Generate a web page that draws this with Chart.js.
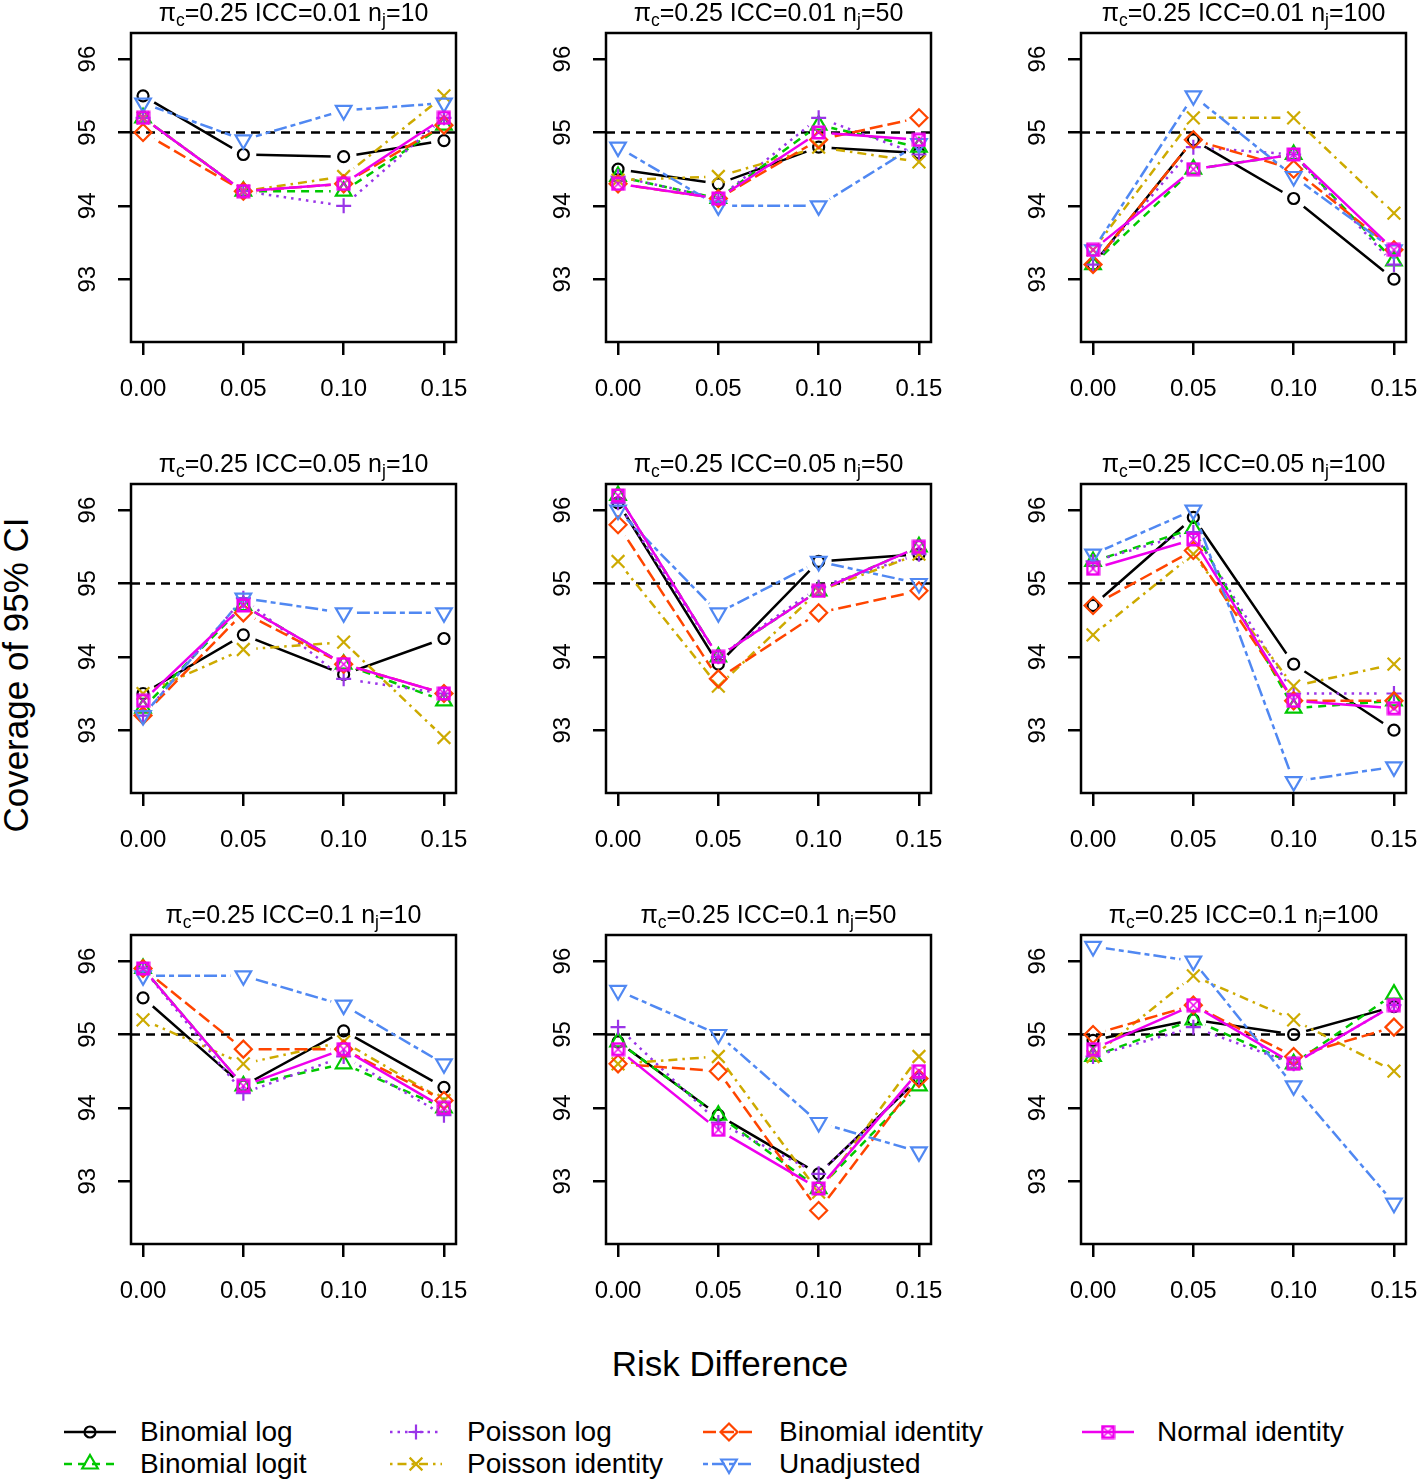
<!DOCTYPE html>
<html>
<head>
<meta charset="utf-8">
<script src="https://cdn.jsdelivr.net/npm/chart.js@4/dist/chart.umd.min.js"></script>
<style>
html,body{margin:0;padding:0;background:#fff;overflow:hidden;}
#wrap{position:relative;width:1418px;height:1480px;overflow:hidden;background:#fff;
  font-family:"Liberation Sans",Arial,Helvetica,sans-serif;color:#000;}
canvas.panel{position:absolute;}
.ptitle{position:absolute;text-align:center;font-size:25px;line-height:25px;white-space:nowrap;}
.ptitle sub{font-size:70%;vertical-align:baseline;position:relative;top:0.3em;}
.axtitle{position:absolute;white-space:nowrap;text-align:center;}
.leg{position:absolute;font-size:28px;line-height:30px;white-space:nowrap;}
canvas.legicon{position:absolute;}
</style>
</head>
<body>
<div id="wrap"></div>
<script>
// ---------------- data ----------------
const riskDiff = [0, 0.05, 0.10, 0.15];
const xTickLabels = ['0.00', '0.05', '0.10', '0.15'];
const yTickValues = [93, 94, 95, 96];
const nominalCoverage = 95;
const piC = '0.25';
const iccLevels = ['0.01', '0.05', '0.1'];
const clusterSizes = ['10', '50', '100'];
const seriesNames = ['Binomial log', 'Binomial logit', 'Poisson log', 'Poisson identity',
  'Binomial identity', 'Unadjusted', 'Normal identity'];

// one row per panel (ICC 0.01: n=10,50,100; ICC 0.05: ...; ICC 0.1: ...)
const binomialLog = [
  [95.5, 94.7, 94.67, 94.89],
  [94.5, 94.3, 94.8, 94.72],
  [93.2, 94.9, 94.1, 93.0],
  [93.5, 94.3, 93.76, 94.25],
  [96.1, 93.9, 95.3, 95.4],
  [94.7, 95.9, 93.9, 93.0],
  [95.5, 94.3, 95.05, 94.28],
  [94.9, 93.9, 93.1, 94.4],
  [94.92, 95.2, 95.0, 95.38]
];
const binomialLogit = [
  [95.2, 94.2, 94.2, 95.1],
  [94.4, 94.1, 95.1, 94.8],
  [93.2, 94.5, 94.7, 93.25],
  [93.3, 94.7, 93.9, 93.4],
  [96.2, 94.0, 94.9, 95.5],
  [95.3, 95.75, 93.3, 93.4],
  [95.9, 94.3, 94.6, 94.0],
  [94.9, 93.9, 92.9, 94.3],
  [94.7, 95.2, 94.6, 95.55]
];
const poissonLog = [
  [95.2, 94.2, 94.0, 95.2],
  [94.4, 94.1, 95.2, 94.7],
  [93.2, 94.8, 94.7, 93.2],
  [93.2, 94.8, 93.7, 93.5],
  [96.1, 94.0, 94.95, 95.4],
  [95.3, 95.7, 93.5, 93.5],
  [95.9, 94.2, 94.7, 93.9],
  [95.1, 93.8, 93.1, 94.4],
  [94.7, 95.1, 94.6, 95.4]
];
const poissonIdentity = [
  [95.2, 94.2, 94.4, 95.5],
  [94.35, 94.4, 94.8, 94.6],
  [93.4, 95.2, 95.2, 93.9],
  [93.5, 94.1, 94.2, 92.9],
  [95.3, 93.6, 94.9, 95.4],
  [94.3, 95.4, 93.6, 93.9],
  [95.2, 94.6, 94.9, 94.1],
  [94.6, 94.7, 92.85, 94.7],
  [94.7, 95.8, 95.2, 94.5]
];
const binomialIdentity = [
  [95.0, 94.2, 94.3, 95.1],
  [94.3, 94.1, 94.9, 95.2],
  [93.2, 94.9, 94.5, 93.4],
  [93.2, 94.6, 93.9, 93.5],
  [95.8, 93.7, 94.6, 94.9],
  [94.7, 95.45, 93.4, 93.4],
  [95.9, 94.8, 94.8, 94.1],
  [94.6, 94.5, 92.6, 94.4],
  [95.0, 95.4, 94.7, 95.1]
];
const unadjusted = [
  [95.4, 94.9, 95.3, 95.4],
  [94.8, 94.0, 94.0, 94.85],
  [93.4, 95.5, 94.4, 93.4],
  [93.2, 94.8, 94.6, 94.6],
  [96.0, 94.6, 95.3, 95.0],
  [95.4, 96.0, 92.3, 92.5],
  [95.8, 95.8, 95.4, 94.6],
  [95.6, 95.0, 93.8, 93.4],
  [96.2, 96.0, 94.3, 92.7]
];
const normalIdentity = [
  [95.2, 94.2, 94.3, 95.2],
  [94.3, 94.1, 95.0, 94.9],
  [93.4, 94.5, 94.7, 93.4],
  [93.4, 94.7, 93.9, 93.5],
  [96.2, 94.0, 94.9, 95.5],
  [95.2, 95.6, 93.4, 93.3],
  [95.9, 94.3, 94.8, 94.0],
  [94.8, 93.7, 92.9, 94.5],
  [94.8, 95.4, 94.6, 95.4]
];
const seriesValues = [binomialLog, binomialLogit, poissonLog, poissonIdentity,
  binomialIdentity, unadjusted, normalIdentity];

// ---------------- styles ----------------
const FONT = '"Liberation Sans", Arial, Helvetica, sans-serif';
const seriesColors = ['#000000', '#00c800', '#9a35e8', '#cdaa00', '#ff4500', '#5088f2', '#ee00ee'];
const seriesDash = [[], [8, 6], [2.5, 5], [2.5, 5, 9, 5], [13, 5], [5, 4, 13, 4], []];
const seriesRotation = [0, 0, 0, 0, 0, 180, 0];
const seriesRadius = [5.5, 9, 7.5, 9, 8.5, 9, 7];
const lineGap = 13; // gap between line ends and markers (type "b")

function makeSquareX(color) {
  const c = document.createElement('canvas');
  c.width = 15; c.height = 15;
  const g = c.getContext('2d');
  g.strokeStyle = color;
  g.lineWidth = 2.5;
  g.strokeRect(1.75, 1.75, 11.5, 11.5);
  g.lineWidth = 1.5;
  g.beginPath();
  g.moveTo(2.5, 2.5); g.lineTo(12.5, 12.5);
  g.moveTo(12.5, 2.5); g.lineTo(2.5, 12.5);
  g.stroke();
  return c;
}
const seriesPointStyle = ['circle', 'triangle', 'cross', 'crossRot', 'rectRot', 'triangle',
  makeSquareX(seriesColors[6])];

// ---------------- layout ----------------
const plotLefts = [131, 606, 1081];
const plotTops = [33, 484, 935];
const plotW = 325, plotH = 309;
const padLeft = 70, padTop = 40, padRight = 40, padBottom = 70;
const xMin = -0.006, xMax = 0.156;
const yMin = 92.144, yMax = 96.356;

const wrap = document.getElementById('wrap');

const boxPlugin = {
  id: 'box',
  afterDraw(chart) {
    const { ctx, chartArea: a } = chart;
    ctx.save();
    ctx.strokeStyle = '#000';
    ctx.lineWidth = 2.5;
    ctx.strokeRect(a.left, a.top, a.right - a.left, a.bottom - a.top);
    ctx.restore();
  }
};

// cut the connecting lines around their own markers, like R's type = "b"
const gapPlugin = {
  id: 'gap',
  beforeDatasetDraw(chart, args) {
    const ds = chart.data.datasets[args.index];
    if (!ds.gapRadius) return;
    const ctx = chart.ctx;
    ctx.save();
    ctx.beginPath();
    ctx.rect(0, 0, chart.width, chart.height);
    args.meta.data.forEach(pt => {
      ctx.moveTo(pt.x + ds.gapRadius, pt.y);
      ctx.arc(pt.x, pt.y, ds.gapRadius, 0, Math.PI * 2);
    });
    ctx.clip('evenodd');
  },
  afterDatasetDraw(chart, args) {
    const ds = chart.data.datasets[args.index];
    if (!ds.gapRadius) return;
    chart.ctx.restore();
  }
};

function buildPanel(r, c) {
  const idx = r * 3 + c;
  const cv = document.createElement('canvas');
  cv.className = 'panel';
  cv.width = padLeft + plotW + padRight;
  cv.height = padTop + plotH + padBottom;
  cv.style.left = (plotLefts[c] - padLeft) + 'px';
  cv.style.top = (plotTops[r] - padTop) + 'px';
  wrap.appendChild(cv);

  const t = document.createElement('div');
  t.className = 'ptitle';
  t.style.left = plotLefts[c] + 'px';
  t.style.width = plotW + 'px';
  t.style.top = (plotTops[r] - 33) + 'px';
  t.innerHTML = '\u03C0<sub>c</sub>=' + piC + ' ICC=' + iccLevels[r] + ' n<sub>j</sub>=' + clusterSizes[c];
  wrap.appendChild(t);

  const datasets = [{
    label: 'nominal',
    data: [{ x: xMin, y: nominalCoverage }, { x: xMax, y: nominalCoverage }],
    borderColor: '#000', borderWidth: 2.5, borderDash: [9, 6],
    pointRadius: 0, fill: false, order: 100
  }];
  seriesNames.forEach((name, s) => {
    const pts = riskDiff.map((x, i) => ({ x: x, y: seriesValues[s][idx][i] }));
    // connecting line
    datasets.push({
      label: name + ' line',
      data: pts,
      borderColor: seriesColors[s],
      borderWidth: 2.5,
      borderDash: seriesDash[s],
      borderCapStyle: 'butt',
      tension: 0,
      fill: false,
      pointRadius: 0,
      gapRadius: lineGap,
      order: 2 * (10 - s) + 1
    });
    // markers
    datasets.push({
      label: name,
      data: pts,
      showLine: false,
      pointStyle: seriesPointStyle[s],
      pointRotation: seriesRotation[s],
      pointRadius: seriesRadius[s],
      pointBorderColor: seriesColors[s],
      pointBackgroundColor: 'rgba(0,0,0,0)',
      pointBorderWidth: 2.2,
      order: 2 * (10 - s)
    });
  });

  const tickFont = { family: FONT, size: 24 };
  new Chart(cv, {
    type: 'line',
    data: { datasets },
    options: {
      responsive: false,
      animation: false,
      devicePixelRatio: 1,
      layout: { autoPadding: false, padding: { top: padTop, right: padRight, bottom: 0, left: 0 } },
      plugins: { legend: { display: false }, tooltip: { enabled: false }, title: { display: false } },
      scales: {
        x: {
          type: 'linear', min: xMin, max: xMax,
          afterFit(s) { s.height = padBottom; },
          afterBuildTicks(s) { s.ticks = riskDiff.map(v => ({ value: v })); },
          ticks: {
            autoSkip: false, minRotation: 0, maxRotation: 0, padding: 20,
            color: '#000', font: tickFont,
            callback: (v) => xTickLabels[riskDiff.indexOf(v)]
          },
          grid: { drawOnChartArea: false, drawTicks: true, tickLength: 13, lineWidth: 2.5, tickWidth: 2.5, tickColor: '#000', color: '#000' },
          border: { display: false }
        },
        y: {
          type: 'linear', min: yMin, max: yMax,
          afterFit(s) { s.width = padLeft; },
          afterBuildTicks(s) { s.ticks = yTickValues.map(v => ({ value: v })); },
          ticks: {
            autoSkip: false, minRotation: 90, maxRotation: 90, crossAlign: 'center', padding: 16,
            color: '#000', font: tickFont,
            callback: (v) => String(v)
          },
          grid: { drawOnChartArea: false, drawTicks: true, tickLength: 13, lineWidth: 2.5, tickWidth: 2.5, tickColor: '#000', color: '#000' },
          border: { display: false }
        }
      }
    },
    plugins: [boxPlugin, gapPlugin]
  });
}

for (let r = 0; r < 3; r++) for (let c = 0; c < 3; c++) buildPanel(r, c);

// ---------------- axis titles ----------------
const xt = document.createElement('div');
xt.className = 'axtitle';
xt.style.fontSize = '35px'; xt.style.lineHeight = '40px';
xt.style.left = (730 - 300) + 'px'; xt.style.width = '600px';
xt.style.top = (1364 - 20) + 'px';
xt.textContent = 'Risk Difference';
wrap.appendChild(xt);

const yt = document.createElement('div');
yt.className = 'axtitle';
yt.style.fontSize = '35px'; yt.style.lineHeight = '40px';
yt.style.width = '500px';
yt.style.left = (16 - 250) + 'px';
yt.style.top = (675 - 20) + 'px';
yt.style.transform = 'rotate(-90deg)';
yt.textContent = 'Coverage of 95% CI';
wrap.appendChild(yt);

// ---------------- legend ----------------
const legCols = [{ line: 64, text: 140 }, { line: 390, text: 467 }, { line: 703, text: 779 }, { line: 1082, text: 1157 }];
const legRows = [1432, 1464];
const legSlots = [[0, 0], [0, 1], [1, 0], [1, 1], [2, 0], [2, 1], [3, 0]]; // [col,row] per series

function drawMarker(g, s, x, y) {
  const style = seriesPointStyle[s];
  const rad = seriesRadius[s];
  g.save();
  g.strokeStyle = seriesColors[s];
  g.lineWidth = 2.2;
  g.setLineDash([]);
  g.beginPath();
  if (typeof style !== 'string') {
    g.drawImage(style, x - style.width / 2, y - style.height / 2);
  } else if (style === 'circle') {
    g.arc(x, y, rad, 0, Math.PI * 2); g.stroke();
  } else if (style === 'triangle') {
    let a = seriesRotation[s] * Math.PI / 180;
    for (let k = 0; k < 3; k++) {
      const px = x + Math.sin(a) * rad, py = y - Math.cos(a) * rad;
      if (k === 0) g.moveTo(px, py); else g.lineTo(px, py);
      a += Math.PI * 2 / 3;
    }
    g.closePath(); g.stroke();
  } else if (style === 'cross') {
    g.moveTo(x - rad, y); g.lineTo(x + rad, y); g.moveTo(x, y - rad); g.lineTo(x, y + rad); g.stroke();
  } else if (style === 'crossRot') {
    const d = rad * Math.SQRT1_2;
    g.moveTo(x - d, y - d); g.lineTo(x + d, y + d); g.moveTo(x + d, y - d); g.lineTo(x - d, y + d); g.stroke();
  } else if (style === 'rectRot') {
    g.moveTo(x - rad, y); g.lineTo(x, y - rad); g.lineTo(x + rad, y); g.lineTo(x, y + rad); g.closePath(); g.stroke();
  }
  g.restore();
}

seriesNames.forEach((name, s) => {
  const [ci, ri] = legSlots[s];
  const col = legCols[ci], yc = legRows[ri];
  const ic = document.createElement('canvas');
  ic.className = 'legicon';
  ic.width = 60; ic.height = 26;
  ic.style.left = (col.line - 4) + 'px';
  ic.style.top = (yc - 13) + 'px';
  wrap.appendChild(ic);
  const g = ic.getContext('2d');
  g.strokeStyle = seriesColors[s];
  g.lineWidth = 2.5;
  g.setLineDash(seriesDash[s]);
  g.beginPath(); g.moveTo(4, 13); g.lineTo(56, 13); g.stroke();
  drawMarker(g, s, 30, 13);

  const lt = document.createElement('div');
  lt.className = 'leg';
  lt.style.left = col.text + 'px';
  lt.style.top = (yc - 15) + 'px';
  lt.textContent = name;
  wrap.appendChild(lt);
});
</script>
</body>
</html>
